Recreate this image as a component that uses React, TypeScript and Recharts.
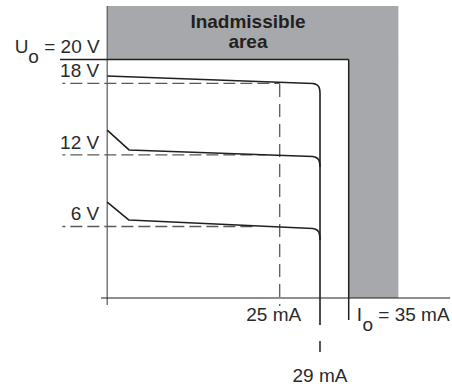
import React from 'react';
import {
  LineChart,
  Line,
  XAxis,
  YAxis,
  ReferenceLine,
  ReferenceArea,
  ReferenceDot,
} from 'recharts';

// ---- values (x in mA on the drawing's linear scale, v in V) ----
const voltageLevels = [18, 12, 6];
const voltageLabels = ['18 V', '12 V', '6 V'];
const dashEnds = [25, 22.9, 21.1];
const maxVoltage = 20; // U_o
const maxCurrent = 35; // I_o
const dashedCurrent = 25;
const limitCurrentPos = 30.84; // where the 29 mA drop sits on the drawing
const inadmissibleEdge = 42.2;
const inadmissibleTop = 24.5;
const currentLabels = ['25 mA', '29 mA', '35 mA'];
const titleLines = ['Inadmissible', 'area'];

const curve18 = [
  { x: 0, v: 18.62 },
  { x: 29.8, v: 17.99 },
  { x: 30.2, v: 17.94 },
  { x: 30.5, v: 17.84 },
  { x: 30.7, v: 17.68 },
  { x: 30.8, v: 17.48 },
  { x: 30.84, v: 17.2 },
  { x: 30.84, v: -2.27 },
];
const curve12 = [
  { x: 0, v: 14.09 },
  { x: 3.16, v: 12.42 },
  { x: 29.8, v: 11.87 },
  { x: 30.2, v: 11.81 },
  { x: 30.5, v: 11.7 },
  { x: 30.7, v: 11.53 },
  { x: 30.8, v: 11.3 },
  { x: 30.84, v: 10.99 },
];
const curve6 = [
  { x: 0, v: 8.05 },
  { x: 3.16, v: 6.54 },
  { x: 29.8, v: 5.83 },
  { x: 30.2, v: 5.77 },
  { x: 30.5, v: 5.66 },
  { x: 30.7, v: 5.48 },
  { x: 30.8, v: 5.22 },
  { x: 30.84, v: 4.87 },
];
const curves = [curve18, curve12, curve6];

const INK = '#231f20';
const DASH = '#58595b';
const GRAY = '#a7a8ab';
const FONT = '"Liberation Sans", Arial, Helvetica, sans-serif';

const anchor = (
  key: string,
  x: number,
  y: number,
  render: (cx: number, cy: number) => React.ReactNode
) => (
  <ReferenceDot
    key={key}
    x={x}
    y={y}
    r={0}
    fill="none"
    stroke="none"
    label={(p: any) => {
      const vb = p.viewBox || {};
      const cx = (vb.x ?? 0) + (vb.width ?? 0) / 2;
      const cy = (vb.y ?? 0) + (vb.height ?? 0) / 2;
      return <g>{render(cx, cy)}</g>;
    }}
  />
);

const txt = { fontFamily: FONT, fontSize: 19, fill: '#2b2a2b' } as const;

export default function App() {
  return (
    <div style={{ position: 'absolute', left: 0, top: 0, background: '#fff' }}>
      <LineChart
        width={452}
        height={387}
        margin={{ top: 0, right: 0, bottom: 0, left: 0 }}
      >
        <XAxis type="number" dataKey="x" domain={[-15.536, 49.971]} hide allowDataOverflow />
        <YAxis type="number" domain={[-7.466, 25]} hide allowDataOverflow />

        {/* inadmissible area */}
        <ReferenceArea
          x1={0}
          x2={inadmissibleEdge}
          y1={maxVoltage}
          y2={inadmissibleTop}
          fill={GRAY}
          fillOpacity={1}
          stroke="none"
        />
        <ReferenceArea
          x1={maxCurrent}
          x2={inadmissibleEdge}
          y1={0}
          y2={maxVoltage + 0.1}
          fill={GRAY}
          fillOpacity={1}
          stroke="none"
        />

        {/* axes */}
        <ReferenceLine
          segment={[{ x: 0, y: -0.59 }, { x: 0, y: inadmissibleTop }]}
          stroke="#58595b"
          strokeWidth={1.2}
        />
        <ReferenceLine
          segment={[{ x: -0.9, y: 0 }, { x: 49.7, y: 0 }]}
          stroke={INK}
          strokeWidth={1.2}
        />

        {/* limit lines */}
        <ReferenceLine
          segment={[{ x: -6.84, y: maxVoltage }, { x: maxCurrent, y: maxVoltage }]}
          stroke={INK}
          strokeWidth={1.5}
        />
        <ReferenceLine
          segment={[{ x: maxCurrent, y: maxVoltage }, { x: maxCurrent, y: -1.85 }]}
          stroke={INK}
          strokeWidth={1.5}
        />
        <ReferenceLine
          segment={[{ x: limitCurrentPos, y: -3.61 }, { x: limitCurrentPos, y: -4.53 }]}
          stroke={INK}
          strokeWidth={1.5}
        />

        {/* dashed guides */}
        {voltageLevels.map((v, i) => (
          <ReferenceLine
            key={'h' + v}
            segment={[{ x: -6.5, y: v }, { x: dashEnds[i], y: v }]}
            stroke={DASH}
            strokeWidth={1.3}
            strokeDasharray="12 5"
            strokeDashoffset={9}
          />
        ))}
        <ReferenceLine
          segment={[{ x: dashedCurrent, y: 17.95 }, { x: dashedCurrent, y: -0.67 }]}
          stroke={DASH}
          strokeWidth={1.3}
          strokeDasharray="13 7"
        />

        {/* characteristic curves */}
        {curves.map((c, i) => (
          <Line
            key={'c' + i}
            data={c}
            dataKey="v"
            type="linear"
            stroke={INK}
            strokeWidth={1.6}
            strokeLinejoin="round"
            dot={false}
            activeDot={false}
            isAnimationActive={false}
          />
        ))}

        {/* texts */}
        {anchor('title', 20.4, maxVoltage, (cx, cy) => (
          <text
            x={cx}
            y={cy}
            textAnchor="middle"
            style={{ ...txt, fill: INK, fontWeight: 700 }}
          >
            <tspan x={cx} dy={-31.6}>{titleLines[0]}</tspan>
            <tspan x={cx} dy={20}>{titleLines[1]}</tspan>
          </text>
        ))}
        {anchor('u0', 0, maxVoltage, (cx, cy) => (
          <text x={cx - 7.5} y={cy - 6.5} textAnchor="end" style={txt}>
            U<tspan dy={10}>o</tspan>
            <tspan dy={-10}>{' = ' + maxVoltage + ' V'}</tspan>
          </text>
        ))}
        {voltageLevels.map((v, i) =>
          anchor('vl' + v, 0, v, (cx, cy) => (
            <text x={cx - 8} y={cy - 6} textAnchor="end" style={txt}>
              {voltageLabels[i]}
            </text>
          ))
        )}
        {anchor('i25', dashedCurrent, 0, (cx, cy) => (
          <text x={cx - 6} y={cy + 23} textAnchor="middle" style={txt}>
            {currentLabels[0]}
          </text>
        ))}
        {anchor('i29', limitCurrentPos, 0, (cx, cy) => (
          <text x={cx} y={cy + 84} textAnchor="middle" style={txt}>
            {currentLabels[1]}
          </text>
        ))}
        {anchor('i35', maxCurrent, 0, (cx, cy) => (
          <text x={cx + 8} y={cy + 23} textAnchor="start" style={txt}>
            I<tspan dx={0.5} dy={10}>o</tspan>
            <tspan dy={-10}>{' = ' + currentLabels[2]}</tspan>
          </text>
        ))}
      </LineChart>
    </div>
  );
}
